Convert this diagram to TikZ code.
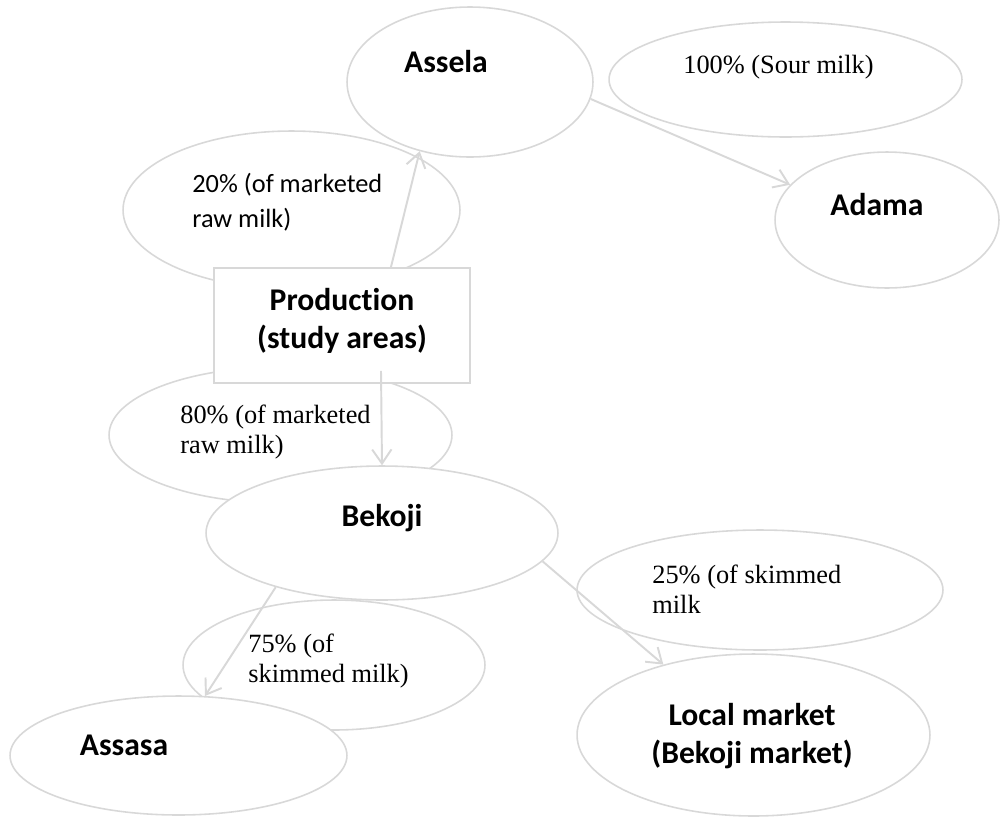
\documentclass[tikz,border=0pt]{standalone}
\usepackage{fontspec}
\setmainfont{Carlito}[RawFeature={-liga;-clig;-calt;-dlig}]
\newfontfamily\tnr{Liberation Serif}
\usetikzlibrary{shapes.geometric,arrows.meta,calc}
\definecolor{linegray}{RGB}{216,216,216}
\tikzset{
  oval/.style={ellipse, draw=linegray, line width=0.9pt, fill=white, inner sep=0pt},
  boxnode/.style={rectangle, draw=linegray, line width=0.9pt, fill=white, inner sep=0pt},
  bold/.style={inner sep=0pt, align=center, font=\fontsize{18}{21.5}\selectfont\bfseries},
  calib/.style={inner sep=0pt, align=left, anchor=west, font=\fontsize{15}{20}\selectfont},
  times/.style={inner sep=0pt, align=left, anchor=west, font=\tnr\fontsize{15}{17}\selectfont},
  flow/.style={draw=linegray, line width=1.1pt, -{Straight Barb[length=8pt,width=11pt,line width=1.1pt]}}
}
\begin{document}
\begin{tikzpicture}[x=0.02cm,y=-0.02cm]
\useasboundingbox (0,0) rectangle (1000,836);
% label ovals
\node[oval, minimum width=6.74cm, minimum height=3.16cm] (o20) at (291.5,210) {};
\node[oval, minimum width=7.06cm, minimum height=2.3cm] (o100) at (785.5,79.5) {};
\node[oval, minimum width=6.86cm, minimum height=2.72cm] (o80) at (280.5,435) {};
\node[oval, minimum width=7.32cm, minimum height=2.4cm] (o25) at (760,590) {};
\node[oval, minimum width=6.04cm, minimum height=2.6cm] (o75) at (334,665) {};
% main nodes
\node[oval, minimum width=4.92cm, minimum height=3.0cm] (assela) at (470,82) {};
\node[oval, minimum width=4.48cm, minimum height=2.72cm] (adama) at (887,220) {};
\node[boxnode, minimum width=5.12cm, minimum height=2.3cm] (prod) at (342,325.5) {};
\node[oval, minimum width=7.04cm, minimum height=2.68cm] (bekoji) at (382,533) {};
\node[oval, minimum width=6.74cm, minimum height=2.38cm] (assasa) at (178.5,755.5) {};
\node[oval, minimum width=7.06cm, minimum height=3.24cm] (local) at (753.5,735) {};
% texts
\node[bold] (tassela) at (446,62) {Assela};
\node[bold] (tadama) at (877,205) {Adama};
\node[bold] (tprod) at (342,321) {Production\\(study areas)};
\node[bold] (tbekoji) at (382,518) {Bekoji};
\node[bold] (tassasa) at (124,745) {Assasa};
\node[bold] (tlocal) at (752,736) {Local market\\(Bekoji market)};
\node[calib] (t20) at (192,202.5) {20\% (of marketed\\raw milk)};
\node[times] (t100) at (683,67) {100\% (Sour milk)};
\node[times] (t80) at (180,432) {80\% (of marketed\\raw milk)};
\node[times] (t25) at (652,589) {25\% (of skimmed\\milk};
\node[times] (t75) at (248,661) {75\% (of\\skimmed milk)};
% connectors
\draw[flow] (prod.50) -- (assela.234);
\draw[flow] (assela.-8) -- (adama.160);
\draw[flow] ($(prod.south)+(39,-13)$) -- (bekoji.north);
\draw[flow] (bekoji.-10) -- (local.142);
\draw[flow] (bekoji.207) -- (assasa.66);
\end{tikzpicture}
\end{document}
